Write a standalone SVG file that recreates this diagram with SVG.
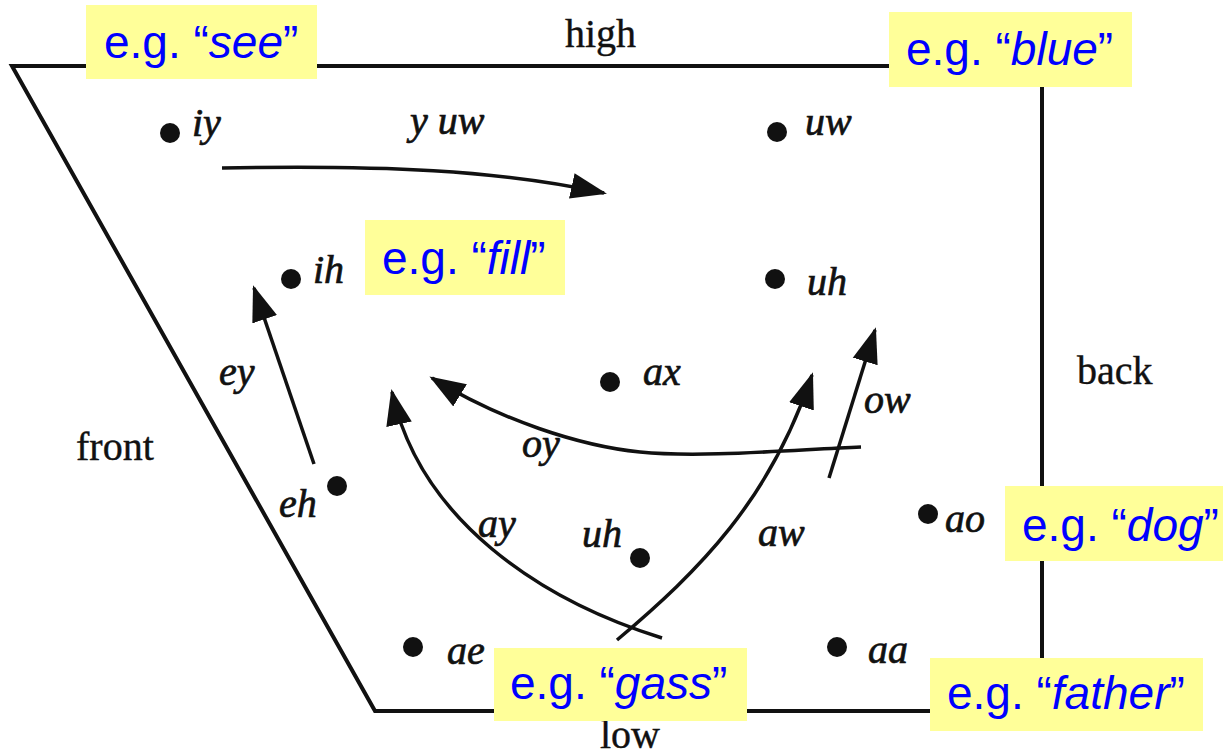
<svg xmlns="http://www.w3.org/2000/svg" width="1224" height="755" viewBox="0 0 1224 755">
<defs>
<style>
.frame{fill:none;stroke:#111;stroke-width:4;stroke-linejoin:miter}
.arr{fill:none;stroke:#111;stroke-width:3.5;marker-end:url(#ah)}
.dot{fill:#111}
.lbl{font-family:"Liberation Serif","Times New Roman",serif;font-style:italic;font-size:40px;fill:#111;stroke:#111;stroke-width:0.7}
.axis{font-family:"Liberation Serif","Times New Roman",serif;font-size:40px;fill:#111;stroke:#111;stroke-width:0.4}
.box{fill:#FFFF99}
.eg{font-family:"Liberation Sans",Arial,sans-serif;font-size:46px;fill:#0000FF}
.eg tspan{font-style:italic}
</style>
<marker id="ah" viewBox="0 -14 36 28" refX="33" refY="0" markerWidth="36" markerHeight="28" markerUnits="userSpaceOnUse" orient="auto">
<path d="M0,-13 L36,0 L0,13 Z" fill="#111"/>
</marker>
</defs>
<rect width="1224" height="755" fill="#ffffff"/>

<g id="chart">
<path class="frame" d="M12,66 L1042,66 L1042,711 L375,711 Z"/>
<text class="axis" x="565" y="47">high</text>
<text class="axis" x="76" y="460">front</text>
<text class="axis" x="1077" y="384">back</text>
<text class="axis" x="600" y="748">low</text>
</g>

<g id="connectors">
<path id="c-yuw" class="arr" d="M222,168 C380,165 500,170 604,193"/>
<path id="c-ey" class="arr" d="M314,464 L254,288"/>
<path id="c-ay" class="arr" d="M662,638 C540,600 420,520 392,392"/>
<path id="c-aw" class="arr" d="M617,640 C700,570 770,500 812,375"/>
<path id="c-ow" class="arr" d="M829,478 L875,330"/>
<path id="c-oy" class="arr" d="M861,447 C790,450 700,458 640,452 C580,446 500,420 432,378"/>
<text class="lbl" x="410" y="134">y uw</text>
<text class="lbl" x="219" y="385">ey</text>
<text class="lbl" x="522" y="457">oy</text>
<text class="lbl" x="864" y="413">ow</text>
<text class="lbl" x="478" y="537">ay</text>
<text class="lbl" x="758" y="546">aw</text>
</g>

<g id="v-iy"><circle class="dot" cx="170" cy="133" r="10"/><text class="lbl" x="192" y="136">iy</text></g>
<g id="v-uw"><circle class="dot" cx="777" cy="132" r="10"/><text class="lbl" x="805" y="135">uw</text></g>
<g id="v-ih"><circle class="dot" cx="291" cy="279" r="10"/><text class="lbl" x="313" y="283">ih</text></g>
<g id="v-uh1"><circle class="dot" cx="775" cy="279" r="10"/><text class="lbl" x="807" y="295">uh</text></g>
<g id="v-ax"><circle class="dot" cx="610" cy="382" r="10"/><text class="lbl" x="643" y="385">ax</text></g>
<g id="v-eh"><circle class="dot" cx="337" cy="486" r="10"/><text class="lbl" x="279" y="517">eh</text></g>
<g id="v-ao"><circle class="dot" cx="928" cy="514" r="10"/><text class="lbl" x="945" y="532">ao</text></g>
<g id="v-uh2"><circle class="dot" cx="640" cy="558" r="10"/><text class="lbl" x="582" y="547">uh</text></g>
<g id="v-ae"><circle class="dot" cx="413" cy="647" r="10"/><text class="lbl" x="447" y="664">ae</text></g>
<g id="v-aa"><circle class="dot" cx="837" cy="647" r="10"/><text class="lbl" x="868" y="663">aa</text></g>

<g id="ex-see"><rect class="box" x="86" y="5" width="231" height="74"/><text class="eg" x="104" y="58">e.g. “<tspan>see</tspan>”</text></g>
<g id="ex-blue"><rect class="box" x="889" y="12" width="243" height="75"/><text class="eg" x="906" y="65">e.g. “<tspan>blue</tspan>”</text></g>
<g id="ex-fill"><rect class="box" x="365" y="220" width="200" height="75"/><text class="eg" x="382" y="274">e.g. “<tspan>fill</tspan>”</text></g>
<g id="ex-dog"><rect class="box" x="1005" y="486" width="218" height="75"/><text class="eg" x="1022" y="541">e.g. “<tspan>dog</tspan>”</text></g>
<g id="ex-gass"><rect class="box" x="494" y="648" width="253" height="73"/><text class="eg" x="510" y="699">e.g. “<tspan>gass</tspan>”</text></g>
<g id="ex-father"><rect class="box" x="930" y="658" width="273" height="73"/><text class="eg" x="947" y="709">e.g. “<tspan>father</tspan>”</text></g>
</svg>
